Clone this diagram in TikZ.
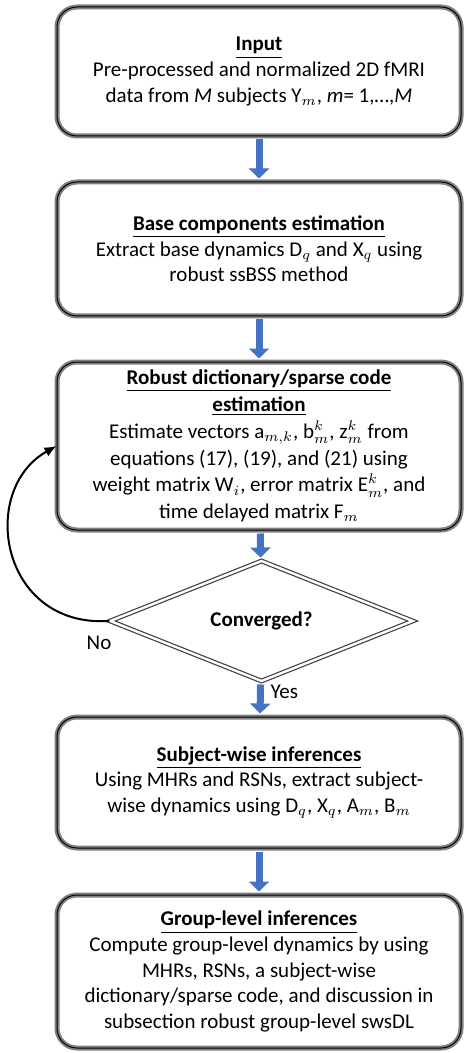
\documentclass[tikz,border=0pt]{standalone}
\usepackage{fontspec}
\setmainfont{Carlito}
\usetikzlibrary{shapes.geometric,arrows.meta}
\definecolor{arrowblue}{RGB}{68,114,196}

\begin{document}
\begin{tikzpicture}[x=0.5pt,y=-0.5pt,
		box/.style={rectangle, rounded corners=10pt, draw=black, line width=.5pt,
			preaction={draw=gray, line width=2.5pt}, minimum width=202pt,
			align=center, font=\fontsize{10.5}{12.8}\selectfont},
		flow/.style={arrowblue, line width=3.5pt, -{Triangle[width=10pt,length=5pt]},
			shorten <=1.5pt, shorten >=1.5pt}]

		\useasboundingbox (0,0) rectangle (465,1053);

		\node[box, minimum height=64.5pt] (II) at (259,71.5) {\underline{\textbf{Input}}\\
			Pre-processed and normalized 2D fMRI\\
			data from \textit{M} subjects Y$_m$, \textit{m}= 1,…,\textit{M}};

		\node[box, minimum height=67pt] (BB) at (259,249) {\underline{\textbf{Base components estimation}}\\
			Extract base dynamics D$_q$ and X$_q$ using\\
			robust ssBSS method};

		\node[box, minimum height=84pt, font=\fontsize{10.5}{13.4}\selectfont] (RR) at (259,446) {\underline{\textbf{Robust dictionary/sparse code}}\\
			\underline{\textbf{estimation}}\\
			Estimate vectors a$_{m,k}$, b$_m^k$, z$_m^k$ from\\
			equations (17), (19), and (21) using\\
			weight matrix W$_i$, error matrix E$_m^k$, and\\
			time delayed matrix F$_m$};

		\node[diamond, draw=black!75, double=white, double distance=1.2pt, line width=.6pt,
			minimum width=151.5pt, minimum height=47.5pt, inner sep=0pt,
			font=\fontsize{10.5}{12.6}\selectfont] (CV) at (261.5,621) {\textbf{Converged?}};

		\node[box, minimum height=65.5pt] (SS) at (259,782.5) {\underline{\textbf{Subject-wise inferences}}\\
			Using MHRs and RSNs, extract subject-\\
			wise dynamics using D$_q$, X$_q$, A$_m$, B$_m$};

		\node[box, minimum height=76.5pt] (GG) at (259,971.5) {\underline{\textbf{Group-level inferences}}\\
			Compute group-level dynamics by using\\
			MHRs, RSNs, a subject-wise\\
			dictionary/sparse code, and discussion in\\
			subsection robust group-level swsDL};

		\node[font=\fontsize{10.5}{12.6}\selectfont] (NO) at (99,643) {No};

		\draw[flow] (II) -- (BB);
		\draw[flow] (BB) -- (RR);
		\draw[flow] (RR) -- (CV);
		\draw[flow] (CV) -- node[pos=.3, right, black, font=\fontsize{10.5}{12.6}\selectfont] {Yes} (SS);
		\draw[flow] (SS) -- (GG);
		\draw[line width=1pt, -{Latex[length=6pt,width=5pt]}] (CV.west) .. controls (0,628) and (-22,490) .. (RR.west);
	\end{tikzpicture}
\end{document}
